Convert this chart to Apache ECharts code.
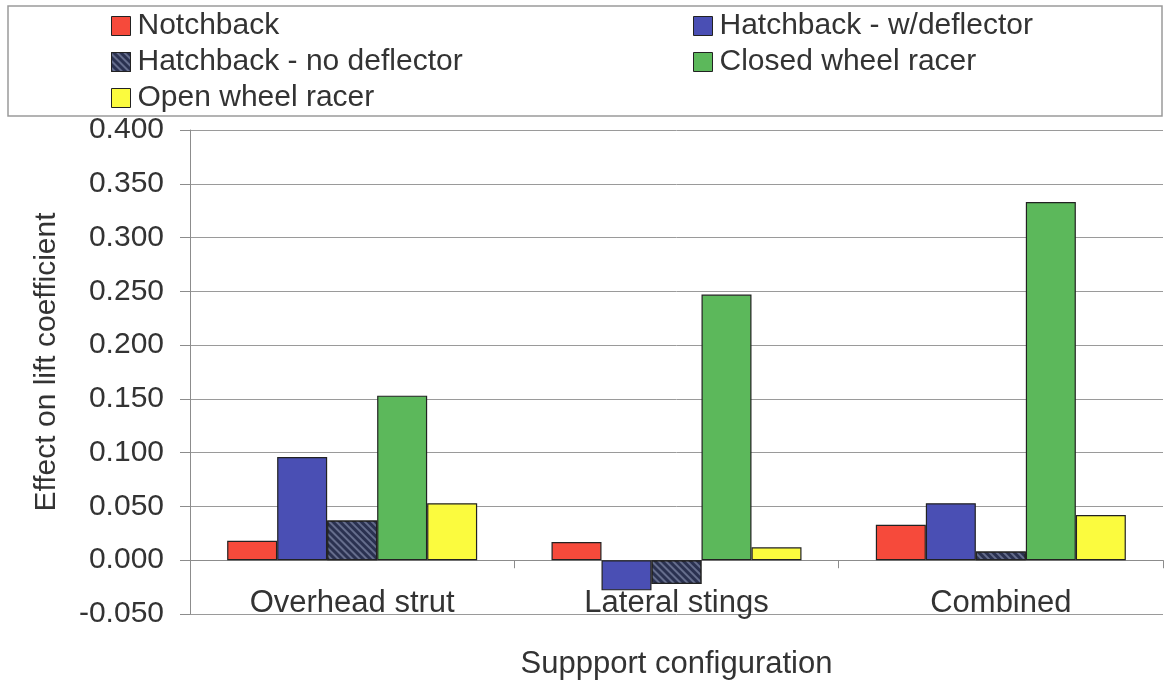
<!DOCTYPE html>
<html>
<head>
<meta charset="utf-8">
<script src="https://cdn.jsdelivr.net/npm/echarts@6/dist/echarts.min.js"></script>
<style>
  html, body { margin: 0; padding: 0; background: #ffffff; }
  #chart { width: 1172px; height: 689px; }
</style>
</head>
<body>
<div id="chart"></div>
<script>
// Support configurations on the category axis
const categories = ['Overhead strut', 'Lateral stings', 'Combined'];

// Change in lift coefficient per vehicle body, one value per configuration
const notchback = [0.018, 0.017, 0.033];
const hatchbackDeflector = [0.096, -0.028, 0.053];
const hatchbackNoDeflector = [0.037, -0.022, 0.008];
const closedWheelRacer = [0.153, 0.247, 0.333];
const openWheelRacer = [0.053, 0.012, 0.042];

const seriesNames = ['Notchback', 'Hatchback - w/deflector', 'Hatchback - no deflector',
                     'Closed wheel racer', 'Open wheel racer'];
const seriesValues = [notchback, hatchbackDeflector, hatchbackNoDeflector,
                      closedWheelRacer, openWheelRacer];

// Value axis range and tick step
const yMin = -0.05, yMax = 0.4, yStep = 0.05;

const FONT = "'Liberation Sans', Arial, Helvetica, sans-serif";
const TEXT = '#333333';
const colors = ['#f64a3b', '#4a4fb4', '#2a3150', '#5cb85b', '#fbfb3e'];

// Diagonal hatching for the "no deflector" bars
const hatch = {
  symbol: 'rect',
  color: 'rgba(120,130,160,0.75)',
  dashArrayX: [1, 0],
  dashArrayY: [2, 3],
  rotation: Math.PI / 4
};

const series = seriesNames.map((name, i) => ({
  name,
  type: 'bar',
  data: seriesValues[i],
  xAxisIndex: 0,
  barWidth: 50,
  barGap: '0%',
  itemStyle: Object.assign({
    color: colors[i],
    borderColor: '#222222',
    borderWidth: 1.2
  }, i === 2 ? { decal: hatch } : {}),
  emphasis: { disabled: true }
}));

const legendText = { fontFamily: FONT, fontSize: 30, color: TEXT, lineHeight: 36, padding: [0, 0, 0, 2] };
const legendBase = {
  orient: 'vertical',
  top: 3,
  itemWidth: 19,
  itemHeight: 19,
  itemGap: 0,
  icon: 'rect',
  selectedMode: false,
  textStyle: legendText,
  itemStyle: { borderColor: '#222222', borderWidth: 1 }
};

const chart = echarts.init(document.getElementById('chart'), null, { renderer: 'canvas' });
chart.setOption({
  animation: false,
  backgroundColor: '#ffffff',
  color: colors,
  textStyle: { fontFamily: FONT },
  graphic: [{
    type: 'rect',
    shape: { x: 8, y: 6, width: 1154, height: 110 },
    style: { fill: 'none', stroke: '#9a9a9a', lineWidth: 1.5 },
    z: 0
  }],
  legend: [
    Object.assign({}, legendBase, { left: 106, data: [seriesNames[0], seriesNames[2], seriesNames[4]] }),
    Object.assign({}, legendBase, { left: 688, data: [seriesNames[1], seriesNames[3]] })
  ],
  grid: { left: 190, right: 9, top: 130, bottom: 75, containLabel: false },
  xAxis: [{
    type: 'category',
    data: categories,
    position: 'bottom',
    axisLine: { show: false, onZero: false },
    axisTick: { show: false },
    axisLabel: { fontFamily: FONT, fontSize: 31, color: TEXT, margin: -26 },
    name: 'Suppport configuration',
    nameLocation: 'middle',
    nameGap: 35,
    nameTextStyle: { fontFamily: FONT, fontSize: 31, color: TEXT },
    splitLine: { show: false }
  }, {
    type: 'category',
    data: categories,
    position: 'bottom',
    axisLine: { show: true, onZero: true, lineStyle: { color: '#8c8c8c', width: 1 } },
    axisTick: { show: true, length: 8, lineStyle: { color: '#8c8c8c' } },
    axisLabel: { show: false },
    splitLine: { show: false }
  }],
  yAxis: {
    type: 'value',
    min: yMin,
    max: yMax,
    interval: yStep,
    axisLine: { show: true, lineStyle: { color: '#8c8c8c', width: 1 } },
    axisTick: { show: true, length: 10, lineStyle: { color: '#8c8c8c' } },
    axisLabel: {
      fontFamily: FONT, fontSize: 30, color: TEXT, margin: 26,
      formatter: v => v.toFixed(3)
    },
    splitLine: { show: true, lineStyle: { color: '#9a9a9a', width: 1 } },
    name: 'Effect on lift coefficient',
    nameLocation: 'middle',
    nameGap: 128,
    nameTextStyle: { fontFamily: FONT, fontSize: 30, color: TEXT, padding: [0, 0, 0, 20] }
  },
  series
});
</script>
</body>
</html>
